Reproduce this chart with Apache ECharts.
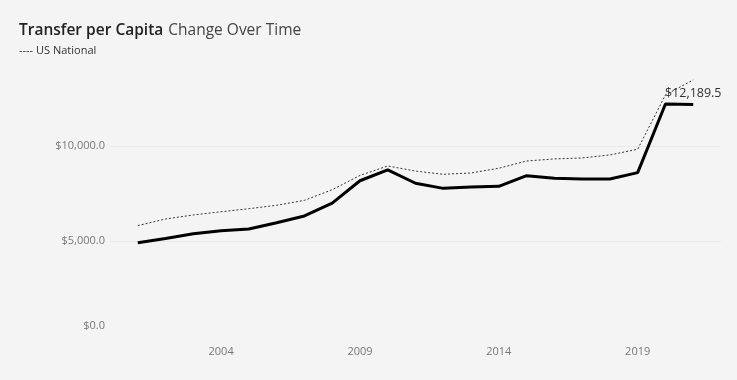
<!DOCTYPE html>
<html>
<head>
<meta charset="utf-8">
<script src="https://cdn.jsdelivr.net/npm/echarts@6/dist/echarts.min.js"></script>
<style>
html,body{margin:0;padding:0;background:#f4f4f4;}
#chart{width:737px;height:380px;}
</style>
</head>
<body>
<div id="chart"></div>
<script>
var years = [2001,2002,2003,2004,2005,2006,2007,2008,2009,2010,2011,2012,2013,2014,2015,2016,2017,2018,2019,2020,2021];
var transferPerCapita = [4910,5130,5380,5540,5630,5960,6320,6990,8170,8740,8040,7770,7840,7880,8440,8300,8260,8260,8600,12210,12189.5];
var usNational = [5810,6160,6370,6540,6700,6880,7140,7700,8450,8950,8680,8510,8580,8830,9210,9320,9370,9530,9830,12690,13480];
var xTickLabels = [2004,2009,2014,2019];
var yTickValues = [0,5000,10000];

function money(v){
  return '$' + v.toLocaleString('en-US',{minimumFractionDigits:1,maximumFractionDigits:1});
}
var lastIdx = years.length - 1;
var chart = echarts.init(document.getElementById('chart'));
chart.setOption({
  backgroundColor:'#f4f4f4',
  animation:false,
  title:{
    left:19, top:22, padding:0,
    text:'{a|Transfer per Capita} {b|Change Over Time}',
    subtext:'---- US National',
    itemGap:5,
    textStyle:{
      rich:{
        a:{fontFamily:'Open Sans',fontSize:15.5,fontWeight:600,color:'#222'},
        b:{fontFamily:'Open Sans',fontSize:15.5,fontWeight:400,color:'#444'}
      }
    },
    subtextStyle:{fontFamily:'Open Sans',fontSize:11,color:'#333'}
  },
  grid:{left:110,right:16,top:70,bottom:44,containLabel:false},
  xAxis:{
    type:'value', min:2000, max:2022, interval:1,
    axisLine:{show:false}, axisTick:{show:false}, splitLine:{show:false},
    axisLabel:{
      margin:10, color:'#777', fontFamily:'Open Sans', fontSize:11,
      showMinLabel:false, showMaxLabel:false,
      formatter:function(v){ return xTickLabels.indexOf(v) >= 0 ? String(v) : ''; }
    }
  },
  yAxis:{
    type:'value', min:0, max:14000, interval:5000,
    axisLine:{show:false}, axisTick:{show:false},
    splitLine:{show:true,lineStyle:{color:['rgba(0,0,0,0)','#e9e9e9','#e9e9e9'],width:1}},
    axisLabel:{
      margin:5, color:'#777', fontFamily:'Open Sans', fontSize:11,
      showMaxLabel:false,
      formatter:function(v){
        if (yTickValues.indexOf(v) < 0) return '';
        return v === 0 ? '{z|' + money(v) + '}' : money(v);
      },
      rich:{z:{color:'#777',fontFamily:'Open Sans',fontSize:11,padding:[0,0,20,0]}}
    }
  },
  series:[
    {
      name:'US National', type:'line', symbol:'none', z:2,
      data: years.map(function(y,i){return [y, usNational[i]];}),
      lineStyle:{color:'#333',width:1,type:[2,2]}
    },
    {
      name:'Transfer per Capita', type:'line', symbol:'circle', symbolSize:0.1, z:3,
      data: years.map(function(y,i){return [y, transferPerCapita[i]];}),
      lineStyle:{color:'#000',width:3},
      itemStyle:{color:'#000'},
      label:{
        show:true, position:'top', distance:4,
        color:'#333', fontFamily:'Open Sans', fontSize:12.5,
        formatter:function(p){ return p.dataIndex === lastIdx ? money(p.value[1]) : ''; }
      }
    }
  ]
});
</script>
</body>
</html>
